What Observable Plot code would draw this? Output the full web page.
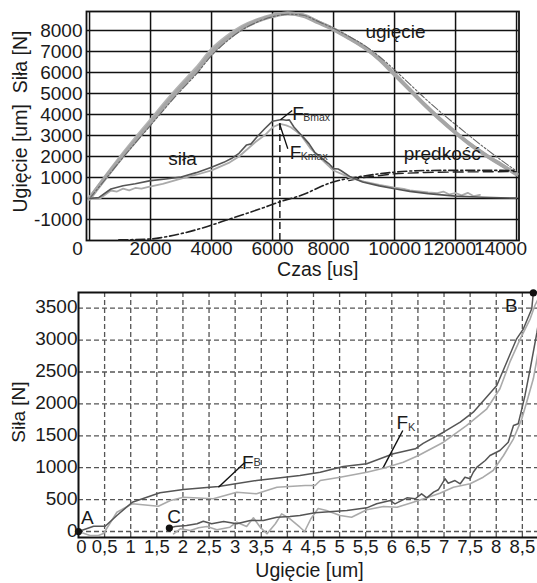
<!DOCTYPE html>
<html><head><meta charset="utf-8">
<script src="https://cdn.jsdelivr.net/npm/d3@7"></script>
<script src="https://cdn.jsdelivr.net/npm/@observablehq/plot@0.6"></script>
<style>
html,body{margin:0;padding:0;background:#fff;overflow:hidden}
#chart{width:537px;height:583px;position:relative;overflow:hidden}
#chart svg{display:block}
</style></head><body><div id="chart"></div>
<script>
// ---------- top chart data (t in us) ----------
const xTicksTop = [0, 2000, 4000, 6000, 8000, 10000, 12000, 14000];
const yTicksTop = [-1000, 0, 1000, 2000, 3000, 4000, 5000, 6000, 7000, 8000];
const ugiecie = [[0,0],[500,950],[1000,1870],[1500,2740],[2000,3600],[2500,4470],[3000,5300],[3500,6060],[4000,6950],[4500,7600],[5000,8100],[5500,8450],[6000,8680],[6500,8800],[7000,8700],[7500,8380],[8000,8050],[8500,7640],[9000,7200],[9500,6630],[10000,5900],[10500,5170],[11000,4440],[11500,3760],[12000,3130],[12500,2550],[13000,2050],[13500,1600],[14000,1150]];
const ugiecieB = [[0,0],[500,1000],[1000,1950],[1500,2850],[2000,3720],[2500,4600],[3000,5420],[3500,6200],[4000,7080],[4500,7700],[5000,8180],[5500,8500],[6000,8720],[6500,8820],[7000,8730],[7500,8400],[8000,8060],[8500,7650],[9000,7200],[9500,6640],[10000,5920],[10500,5190],[11000,4450],[11500,3770],[12000,3140],[12500,2560],[13000,2060],[13500,1610],[14000,1170]];
const ugiecieC = [[0,0],[500,880],[1000,1780],[1500,2640],[2000,3480],[2500,4330],[3000,5150],[3500,5920],[4000,6800],[4500,7480],[5000,8020],[5500,8400],[6000,8650],[6500,8770],[7000,8720],[7500,8420],[8000,8100],[8500,7720],[9000,7300],[9500,6760],[10000,6120],[10500,5440],[11000,4760],[11500,4120],[12000,3520],[12500,2930],[13000,2360],[13500,1820],[14000,1300]];
const silaB = [[0,0],[300,40],[700,450],[1100,610],[1500,700],[2000,850],[2500,930],[3000,1020],[3500,1230],[4000,1490],[4400,1720],[4650,1900],[4900,2150],[5150,2550],[5300,2600],[5500,2950],[5750,3330],[6000,3680],[6300,3760],[6450,3720],[6550,3740],[6700,3400],[6900,3080],[7050,2850],[7200,2600],[7380,2200],[7550,2000],[7700,1820],[7850,1650],[8000,1420],[8150,1400],[8250,1320],[8550,1030],[8950,780],[9500,600],[10000,460],[10500,340],[11100,230],[12000,110],[12900,60],[14000,15]];
const silaK = [[0,0],[330,-10],[700,380],[900,330],[1100,470],[1300,390],[1500,500],[1700,470],[1900,540],[2400,700],[3000,940],[3500,1130],[4000,1340],[4600,1720],[4900,2000],[5200,2380],[5450,2700],[5750,3020],[6000,3390],[6250,3550],[6450,3480],[6600,3390],[6800,3170],[6950,2980],[7250,2370],[7600,1880],[8000,1330],[8300,1150],[8550,980],[9000,800],[9500,650],[10000,520],[10300,460],[10500,390],[10800,340],[11100,290],[11400,250],[11600,330],[11800,190],[12000,260],[12200,150],[12400,270],[12600,110],[12800,170]];
const predkosc = [[960,-1970],[2000,-1930],[2440,-1840],[3530,-1475],[4620,-966],[5600,-490],[6260,-150],[6920,143],[7960,776],[8940,1060],[9975,1250],[11130,1333],[12500,1340],[14000,1333]];
const predkoscB = [[8500,850],[9000,1000],[10000,1180],[11000,1240],[12000,1260],[13000,1270],[14000,1280]];
const peakT = [6240];
// annotations (top)
const topLabels = [{text:"siła", t:3048, v:1571},{text:"ugięcie", t:10031, v:7650},{text:"prędkość", t:11562, v:1842}];
const topF = [{sub:"Bmax", t:6644, v:3746},{sub:"Kmax", t:6566, v:1889}];
const topLeaders = [{t1:6260, v1:3745, t2:6645, v2:4188},{t1:6228, v1:3555, t2:6500, v2:2365}];

// ---------- bottom chart data (ugięcie um, siła N) ----------
const xTicksBottom = [0,0.5,1,1.5,2,2.5,3,3.5,4,4.5,5,5.5,6,6.5,7,7.5,8,8.5];
const yTicksBottom = [0,500,1000,1500,2000,2500,3000,3500];
const loadB = [[0,0],[0.29,83],[0.51,83],[0.735,251],[1.03,459],[1.56,607],[2.01,658],[2.68,705],[3.41,799],[4.24,878],[4.63,929],[5.07,1019],[5.52,1061],[6.03,1218],[6.45,1296],[6.6,1380],[6.99,1556],[7.31,1713],[7.56,1870],[8.01,2288],[8.2,2654],[8.39,3020],[8.52,3177],[8.68,3491],[8.71,3740]];
const loadK = [[0,0],[0.22,-63],[0.38,-63],[0.48,-31],[0.735,302],[1.03,434],[1.53,397],[1.76,486],[2.01,538],[2.58,513],[3.03,616],[3.41,591],[3.8,694],[4.34,721],[4.53,721],[4.63,799],[5.01,851],[5.52,929],[5.84,992],[6.22,1086],[6.51,1191],[6.99,1400],[7.43,1661],[7.82,1923],[8.07,2237],[8.26,2654],[8.46,3020],[8.65,3334],[8.74,3542],[8.8,3640]];
const unloadB = [[1.74,53],[1.85,78],[2.07,94],[2.27,121],[2.39,161],[2.55,121],[2.78,157],[3.03,121],[3.29,172],[3.54,172],[3.8,224],[4.05,235],[4.24,251],[4.53,293],[5.14,329],[5.52,371],[5.71,434],[5.97,486],[6.06,434],[6.29,528],[6.45,513],[6.57,591],[6.67,528],[6.8,616],[6.89,654],[7.02,826],[7.08,757],[7.21,799],[7.31,748],[7.4,851],[7.5,826],[7.56,929],[7.63,1008],[7.79,1113],[7.88,1191],[8.07,1270],[8.23,1400],[8.33,1661],[8.42,1688],[8.49,1923],[8.55,2132],[8.65,2550],[8.78,3124],[8.85,3500]];
const unloadK = [[1.82,-36],[1.95,42],[2.14,16],[2.3,60],[2.46,78],[2.65,27],[2.9,67],[3.03,146],[3.22,78],[3.35,215],[3.48,67],[3.61,-36],[3.77,121],[3.89,277],[4.05,199],[4.24,67],[4.33,0],[4.45,200],[4.59,360],[4.75,329],[5.01,251],[5.23,224],[5.52,340],[5.84,392],[6.1,381],[6.41,459],[6.67,528],[6.92,600],[7.18,694],[7.5,748],[7.75,851],[7.94,956],[8.14,1191],[8.33,1453],[8.49,1766],[8.61,2105],[8.71,2393],[8.78,2707],[8.85,3100]];
const points = [{name:"A", u:0, f:0},{name:"C", u:1.74, f:53},{name:"B", u:8.71, f:3740}];
const bottomLabels = [{text:"A", u:0.046, f:121},{text:"C", u:1.70, f:130},{text:"B", u:8.17, f:3448}];
const bottomF = [{sub:"B", u:3.13, f:983},{sub:"K", u:6.09, f:1610}];
const bottomLeaders = [{u1:3.19, f1:1086, u2:2.68, f2:694},{u1:6.21, f1:1583, u2:5.84, f2:1008}];

const FONT = "'Liberation Sans', Arial, Helvetica, sans-serif";
const DARK = "#555";
const LIGHT = "#aaa";
const X = d => d[0], Y = d => d[1];
const fmt = d => String(d);
const fmtComma = d => String(d).replace(".", ",");

const topChart = Plot.plot({
  width: 537, height: 280,
  marginLeft: 86, marginRight: 18.5, marginTop: 11, marginBottom: 40,
  x: {domain: [-100, 14080]},
  y: {domain: [-2000, 8900]},
  style: {fontFamily: FONT, fontSize: "19px", color: "#1a1a1a", background: "white", overflow: "visible"},
  marks: [
    Plot.ruleX(xTicksTop, {stroke: "#111", strokeWidth: 1.5}),
    Plot.ruleY(yTicksTop, {stroke: "#111", strokeWidth: 1.5}),
    Plot.frame({stroke: "#111", strokeWidth: 1.8}),
    Plot.line(ugiecieB, {x: X, y: Y, stroke: "#b4b4b4", strokeWidth: 3.5, curve: "monotone-x"}),
    Plot.line(ugiecie, {x: X, y: Y, stroke: "#a6a6a6", strokeWidth: 4, curve: "monotone-x"}),
    Plot.line(ugiecieC, {x: X, y: Y, stroke: "#666", strokeWidth: 1.1, strokeDasharray: "8,2,2,2,2,2", curve: "monotone-x"}),
    Plot.line(predkoscB, {x: X, y: Y, stroke: "#222", strokeWidth: 1.4, strokeDasharray: "10,5"}),
    Plot.line(predkosc, {x: X, y: Y, stroke: "#222", strokeWidth: 1.6, strokeDasharray: "9,3,2,3", curve: "monotone-x"}),
    Plot.line(silaK, {x: X, y: Y, stroke: LIGHT, strokeWidth: 1.8}),
    Plot.line(silaB, {x: X, y: Y, stroke: DARK, strokeWidth: 1.6}),
    Plot.ruleX(peakT, {y1: -2000, y2: 3700, stroke: "#111", strokeWidth: 1.4, strokeDasharray: "7,4"}),
    Plot.link(topLeaders, {x1: "t1", y1: "v1", x2: "t2", y2: "v2", stroke: "#111", strokeWidth: 1.3}),
    Plot.text(topLabels, {x: "t", y: "v", text: "text", fontSize: 19, textAnchor: "middle", lineAnchor: "bottom", fill: "#1a1a1a"}),
    Plot.text(topF, {x: "t", y: "v", text: () => "F", fontSize: 19, textAnchor: "start", lineAnchor: "bottom", fill: "#1a1a1a"}),
    Plot.text(topF, {x: "t", y: "v", text: "sub", fontSize: 10.5, textAnchor: "start", lineAnchor: "bottom", dx: 11, dy: 1, fill: "#333"}),
    Plot.axisY({ticks: yTicksTop, tickSize: 0, tickPadding: 4, tickFormat: fmt, fontSize: 19, label: null}),
    Plot.axisX({ticks: xTicksTop.filter(d => d === 0), tickSize: 0, tickPadding: 1, tickFormat: fmt, fontSize: 19, label: null, dx: -12}),
    Plot.axisX({ticks: xTicksTop.filter(d => d > 0 && d < 12000 && d !== 8000), tickSize: 0, tickPadding: 1, tickFormat: fmt, fontSize: 19, label: null}),
    Plot.axisX({ticks: xTicksTop.filter(d => d === 8000), tickSize: 0, tickPadding: 1, tickFormat: fmt, fontSize: 19, label: null, dx: -5}),
    Plot.axisX({ticks: xTicksTop.filter(d => d === 12000), tickSize: 0, tickPadding: 1, tickFormat: fmt, fontSize: 19, label: null, dx: -6}),
    Plot.axisX({ticks: xTicksTop.filter(d => d === 14000), tickSize: 0, tickPadding: 1, tickFormat: fmt, fontSize: 19, label: null, dx: -16}),
    Plot.text(["Czas [us]"], {frameAnchor: "bottom", text: d => d, fontSize: 19.5, lineAnchor: "bottom", dy: 35.5, dx: 15, fill: "#1a1a1a"}),
    Plot.text(["Ugięcie [um]  Siła [N]"], {frameAnchor: "left", text: d => d, fontSize: 19.5, rotate: -90, textAnchor: "middle", lineAnchor: "middle", dx: -66, dy: -4.5, fill: "#1a1a1a"})
  ]
});

const bottomChart = Plot.plot({
  width: 537, height: 303,
  marginLeft: 78, marginRight: 0, marginTop: 12, marginBottom: 46,
  x: {domain: [0, 8.79]},
  y: {domain: [-94, 3746]},
  style: {fontFamily: FONT, fontSize: "19px", color: "#1a1a1a", background: "white", overflow: "visible"},
  marks: [
    Plot.ruleX(xTicksBottom.filter(d => d > 0), {stroke: "#555", strokeWidth: 1.3, strokeDasharray: "5,3"}),
    Plot.ruleY(yTicksBottom, {stroke: "#555", strokeWidth: 1.3, strokeDasharray: "5,3"}),
    Plot.frame({stroke: "#111", strokeWidth: 2, insetRight: -6}),
    Plot.line(unloadK, {x: X, y: Y, stroke: LIGHT, strokeWidth: 1.6, clip: true}),
    Plot.line(unloadB, {x: X, y: Y, stroke: DARK, strokeWidth: 1.5, clip: true}),
    Plot.line(loadK, {x: X, y: Y, stroke: LIGHT, strokeWidth: 1.6, clip: true}),
    Plot.line(loadB, {x: X, y: Y, stroke: DARK, strokeWidth: 1.5, clip: true}),
    Plot.link(bottomLeaders, {x1: "u1", y1: "f1", x2: "u2", y2: "f2", stroke: "#111", strokeWidth: 1.4}),
    Plot.dot(points, {x: "u", y: "f", r: 3.6, fill: "#111", stroke: "none"}),
    Plot.text(bottomLabels, {x: "u", y: "f", text: "text", fontSize: 19, textAnchor: "start", lineAnchor: "bottom", fill: "#1a1a1a"}),
    Plot.text(bottomF, {x: "u", y: "f", text: () => "F", fontSize: 19, textAnchor: "start", lineAnchor: "bottom", fill: "#1a1a1a"}),
    Plot.text(bottomF.filter(d => d.sub === "B"), {x: "u", y: "f", text: "sub", fontSize: 11, textAnchor: "start", lineAnchor: "bottom", dx: 11.5, dy: -3, fill: "#333"}),
    Plot.text(bottomF.filter(d => d.sub === "K"), {x: "u", y: "f", text: "sub", fontSize: 11, textAnchor: "start", lineAnchor: "bottom", dx: 11.5, dy: 2, fill: "#333"}),
    Plot.axisY({ticks: yTicksBottom, tickSize: 0, tickPadding: 1, tickFormat: fmt, fontSize: 19, label: null, dy: -1}),
    Plot.axisX({ticks: xTicksBottom.filter(d => d === 0), tickSize: 0, tickPadding: 2, tickFormat: fmtComma, fontSize: 18.5, label: null, dx: 3}),
    Plot.axisX({ticks: xTicksBottom.filter(d => d > 0), tickSize: 0, tickPadding: 2, tickFormat: fmtComma, fontSize: 18.5, label: null}),
    Plot.text(["Ugięcie [um]"], {frameAnchor: "bottom", text: d => d, fontSize: 19.5, lineAnchor: "bottom", dy: 39.5, dx: 1.5, fill: "#1a1a1a"}),
    Plot.text(["Siła [N]"], {frameAnchor: "left", text: d => d, fontSize: 19, rotate: -90, textAnchor: "middle", lineAnchor: "middle", dx: -59.5, dy: -3, fill: "#1a1a1a"})
  ]
});

const root = document.getElementById("chart");
root.appendChild(topChart);
root.appendChild(bottomChart);
</script></body></html>
